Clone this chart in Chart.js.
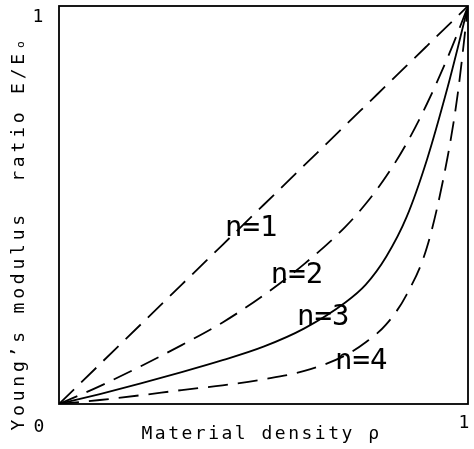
<!DOCTYPE html>
<html>
<head>
<meta charset="utf-8">
<script src="https://cdn.jsdelivr.net/npm/chart.js@4/dist/chart.umd.min.js"></script>
<style>
  html, body { margin: 0; padding: 0; background: #fff; }
  #wrap { width: 474px; height: 449px; }
</style>
</head>
<body>
<div id="wrap"><canvas id="graph" width="474" height="449"></canvas></div>
<script>
// density values (x) shared by all curves
const rho = [0, 0.1, 0.2, 0.3, 0.4, 0.5, 0.6, 0.7, 0.75, 0.8, 0.85, 0.9, 0.95, 0.975, 1];

// modulus ratio
const n1 = [0, 0.1, 0.2, 0.3, 0.4, 0.5, 0.6, 0.7, 0.75, 0.8, 0.85, 0.9, 0.95, 0.975, 1];
const n2 = [0, 0.045, 0.095, 0.148, 0.205, 0.273, 0.352, 0.445, 0.503, 0.572, 0.655, 0.755, 0.87, 0.933, 1];
const n3 = [0, 0.025, 0.052, 0.08, 0.11, 0.144, 0.19, 0.255, 0.3, 0.37, 0.47, 0.615, 0.795, 0.895, 1];
const n4 = [0, 0.01, 0.022, 0.035, 0.047, 0.062, 0.083, 0.122, 0.155, 0.2, 0.275, 0.395, 0.62, 0.78, 1];

const seriesNames = ['n=1', 'n=2', 'n=3', 'n=4'];
// where each curve label sits (data coords, left edge / baseline)
const labelRho = [0.406, 0.518, 0.582, 0.675];
const labelVal = [0.422, 0.304, 0.198, 0.088];

const xTitle = 'Material density \u03c1';
const yTitle = 'Young\u2019s modulus  ratio E/E\u2092';

const mono = '"DejaVu Sans Mono", "Liberation Mono", monospace';

function pts(ys) {
    return rho.map((x, i) => ({ x: x, y: ys[i] }));
}

function line(label, ys, dash) {
    return {
        label: label,
        data: pts(ys),
        showLine: true,
        borderColor: '#000',
        borderWidth: 1.8,
        borderDash: dash,
        pointRadius: 0,
        cubicInterpolationMode: 'monotone',
        fill: false
    };
}

const data = {
    datasets: [
        line(seriesNames[0], n1, [21, 10]),
        line(seriesNames[1], n2, [20, 10]),
        line(seriesNames[2], n3, []),
        line(seriesNames[3], n4, [20, 10])
    ]
};

const decor = {
    id: 'decor',
    afterDatasetsDraw(chart) {
        const ctx = chart.ctx;
        const a = chart.chartArea;
        const xs = chart.scales.x, ys = chart.scales.y;
        ctx.save();
        ctx.strokeStyle = '#000';
        ctx.lineWidth = 1.8;
        ctx.strokeRect(a.left, a.top, a.right - a.left, a.bottom - a.top);

        ctx.fillStyle = '#000';
        ctx.textBaseline = 'alphabetic';

        // curve labels
        ctx.font = '29px ' + mono;
        ctx.textAlign = 'left';
        ctx.letterSpacing = '0px';
        seriesNames.forEach((s, i) => {
            ctx.fillText(s, xs.getPixelForValue(labelRho[i]), ys.getPixelForValue(labelVal[i]));
        });

        // corner numbers
        ctx.font = '18px ' + mono;
        ctx.textAlign = 'center';
        ctx.fillText('1', a.left - 21, a.top + 16);
        ctx.fillText('0', a.left - 20, a.bottom + 28);
        ctx.fillText('1', a.right - 4, a.bottom + 24);

        // axis titles
        ctx.font = '18px ' + mono;
        ctx.letterSpacing = '2.5px';
        ctx.fillText(xTitle, (a.left + a.right) / 2 - 2, a.bottom + 35);
        ctx.translate(a.left - 35, (a.top + a.bottom) / 2 + 28);
        ctx.rotate(-Math.PI / 2);
        ctx.letterSpacing = '3.8px';
        ctx.fillText(yTitle, 0, 0);
        ctx.restore();
    }
};

const config = {
    type: 'scatter',
    data: data,
    options: {
        responsive: false,
        animation: false,
        layout: { padding: { top: 6, right: 6, left: 0, bottom: 0 } },
        plugins: {
            legend: { display: false },
            tooltip: { enabled: false }
        },
        scales: {
            x: {
                type: 'linear', min: 0, max: 1,
                grid: { display: false },
                border: { display: false },
                ticks: { display: false },
                afterFit: (s) => { s.height = 45; }
            },
            y: {
                type: 'linear', min: 0, max: 1,
                grid: { display: false },
                border: { display: false },
                ticks: { display: false },
                afterFit: (s) => { s.width = 59; }
            }
        }
    },
    plugins: [decor]
};

const graph = document.querySelector('#graph');
new Chart(graph, config);
</script>
</body>
</html>
